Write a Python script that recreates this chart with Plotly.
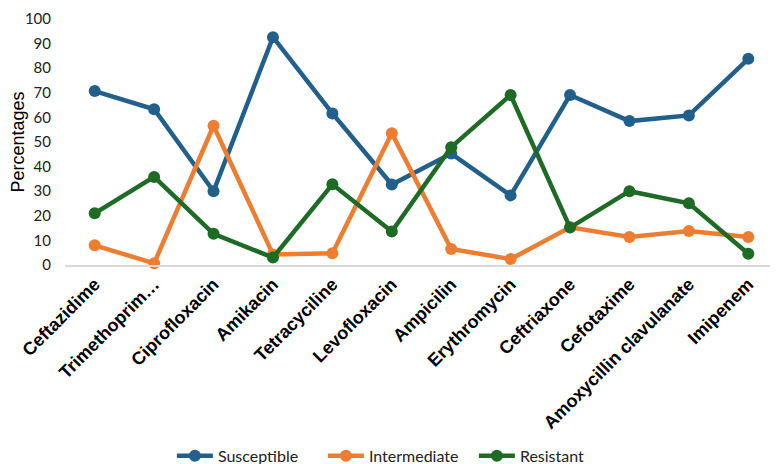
import plotly.graph_objects as go

categories = ["Ceftazidime", "Trimethoprim…", "Ciprofloxacin", "Amikacin", "Tetracyciline",
              "Levofloxacin", "Ampicilin", "Erythromycin", "Ceftriaxone", "Cefotaxime",
              "Amoxycillin clavulanate", "Imipenem"]
susceptible = [70.7, 63.3, 30.0, 92.6, 61.6, 32.7, 45.3, 28.3, 69.1, 58.5, 60.8, 83.8]
intermediate = [8.0, 0.7, 56.6, 4.3, 4.8, 53.6, 6.5, 2.4, 15.3, 11.4, 13.8, 11.4]
resistant = [21.0, 35.8, 12.7, 3.0, 32.8, 13.6, 47.9, 69.1, 15.2, 30.0, 25.1, 4.6]
y_ticks = [0, 10, 20, 30, 40, 50, 60, 70, 80, 90, 100]

series = [("Susceptible", susceptible, "#20608b"),
          ("Intermediate", intermediate, "#ed7d31"),
          ("Resistant", resistant, "#1e6b26")]

fig = go.Figure()
for name, vals, color in series:
    fig.add_trace(go.Scatter(
        x=categories, y=vals, name=name, mode="lines+markers",
        line=dict(color=color, width=4.5),
        marker=dict(color=color, size=12),
        cliponaxis=False,
    ))

fig.update_layout(
    width=770, height=456,
    margin=dict(l=57, r=0, t=11, b=199, autoexpand=False),
    plot_bgcolor="white", paper_bgcolor="white",
    showlegend=True,
    legend=dict(orientation="h", xref="container", yref="container",
                x=0.507, xanchor="center", y=0.018, yanchor="middle",
                font=dict(family="Lato", size=16, color="#222"),
                itemwidth=36, entrywidth=100, entrywidthmode="pixels"),
    xaxis=dict(
        type="category", range=[-0.5, 11.5], showgrid=False, showline=True,
        linecolor="#d9d9d9", linewidth=1.5, ticks="", tickangle=-45, automargin=False,
        tickfont=dict(family="Liberation Sans", size=18, color="black", weight="bold"),
    ),
    yaxis=dict(
        range=[0, 100], tickvals=y_ticks, showgrid=False, showline=False,
        zeroline=False, ticks="", automargin=False, ticklabelstandoff=13,
        ticklabeloverflow="allow",
        tickfont=dict(family="Lato", size=15, color="#222"),
        title=dict(text="Percentages", font=dict(family="Liberation Sans", size=18, color="black"),
                   standoff=2),
    ),
)

fig.write_html("out.html")
